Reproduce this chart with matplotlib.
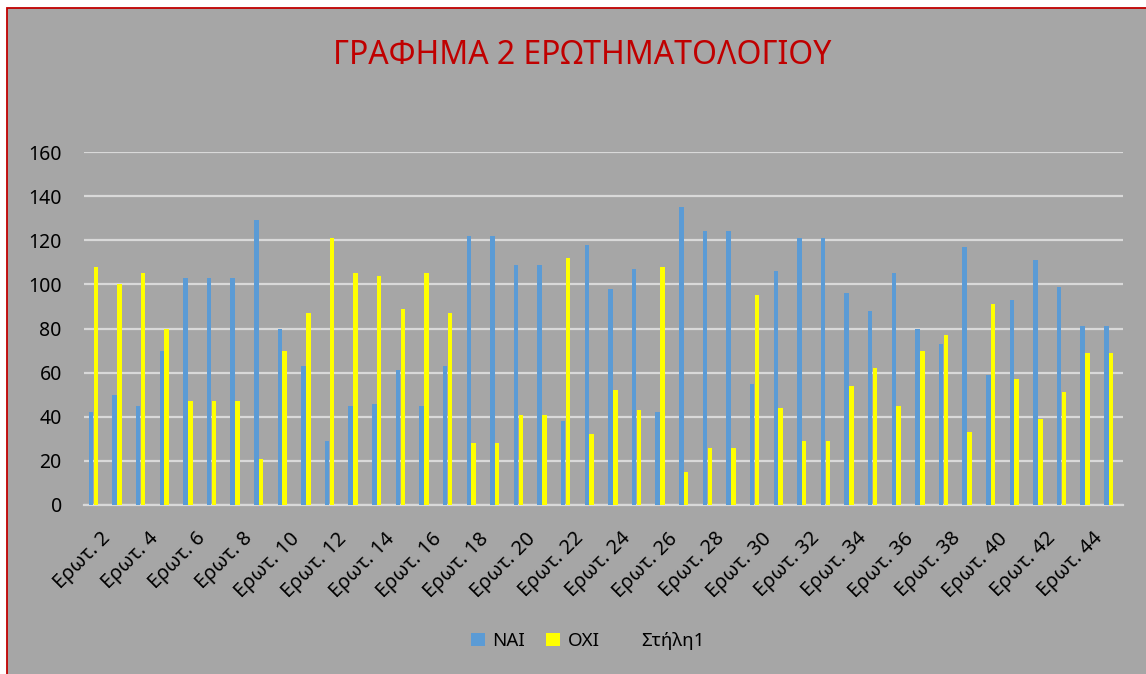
import matplotlib
matplotlib.use("Agg")
import matplotlib.pyplot as plt
import matplotlib.transforms as mtrans
from matplotlib.patches import Rectangle, Patch
import numpy as np

plt.rcParams['font.family'] = ['Noto Sans', 'DejaVu Sans']

categories = [f"Ερωτ. {i}" for i in range(2, 46)]
nai = [42, 50, 45, 70, 103, 103, 103, 129, 80, 63, 29, 45, 46, 61, 45, 63,
       122, 122, 109, 109, 38, 118, 98, 107, 42, 135, 124, 124, 55, 106,
       121, 121, 96, 88, 105, 80, 73, 117, 59, 93, 111, 99, 81, 81]
oxi = [108, 100, 105, 80, 47, 47, 47, 21, 70, 87, 121, 105, 104, 89, 105, 87,
       28, 28, 41, 41, 112, 32, 52, 43, 108, 15, 26, 26, 95, 44,
       29, 29, 54, 62, 45, 70, 77, 33, 91, 57, 39, 51, 69, 69]
series_names = ["NAI", "OXI", "Στήλη1"]
yticks = [0, 20, 40, 60, 80, 100, 120, 140, 160]
title = "ΓΡΑΦΗΜΑ 2 ΕΡΩΤΗΜΑΤΟΛΟΓΙΟΥ"

W, H = 1146, 674
bg = '#A6A6A6'
fig = plt.figure(figsize=(W / 100, H / 100), dpi=100, facecolor='white')

# chart area with red border
fig.patches.append(Rectangle((7 / W, -0.02), 1.05, 1 - 8 / H + 0.02,
                             transform=fig.transFigure, facecolor=bg,
                             edgecolor='#C00000', linewidth=1.3, zorder=-5))

ax = fig.add_axes([84 / W, (H - 505) / H, 1039 / W, 353 / H])
ax.set_zorder(2)
ax.patch.set_alpha(0)

x = np.arange(len(categories))
w = 0.19
off = 0.205
ax.bar(x - off, nai, width=w, color='#5B9BD5', zorder=3)
ax.bar(x, oxi, width=w, color='#FFFF00', zorder=3)

ax.set_xlim(-0.5, len(categories) - 0.5)
ax.set_ylim(0, 160)
ax.set_yticks(yticks)
ax.yaxis.grid(True, color='#D9D9D9', linewidth=1.6, zorder=1)
ax.set_axisbelow(True)
for s in ['top', 'right', 'left']:
    ax.spines[s].set_visible(False)
ax.spines['bottom'].set_color('#D9D9D9')
ax.spines['bottom'].set_linewidth(1.6)
ax.tick_params(axis='both', length=0, colors='black')
ax.tick_params(axis='y', pad=16, labelsize=14)

ax.set_xticks(x[::2])
ax.set_xticklabels(categories[::2], rotation=45, ha='right', va='top',
                   rotation_mode='anchor', fontsize=14.5)
ax.tick_params(axis='x', pad=17)
shift = mtrans.ScaledTranslation(5 / 100, 0, fig.dpi_scale_trans)
for lab in ax.get_xticklabels():
    lab.set_transform(lab.get_transform() + shift)

fig.text(582 / W, 1 - 55 / H, title, ha='center', va='center',
         color='#C00000', fontsize=23)

handles = [Patch(facecolor='#5B9BD5', edgecolor='none'),
           Patch(facecolor='#FFFF00', edgecolor='none'),
           Patch(facecolor='none', edgecolor='none')]
fig.legend(handles, series_names, loc='center', ncol=3, frameon=False,
           bbox_to_anchor=(588 / W, 1 - 641 / H), fontsize=13.5,
           handlelength=0.75, handleheight=0.75, handletextpad=0.4,
           columnspacing=1.1)

fig.savefig('out.png', dpi=100, facecolor='white')
